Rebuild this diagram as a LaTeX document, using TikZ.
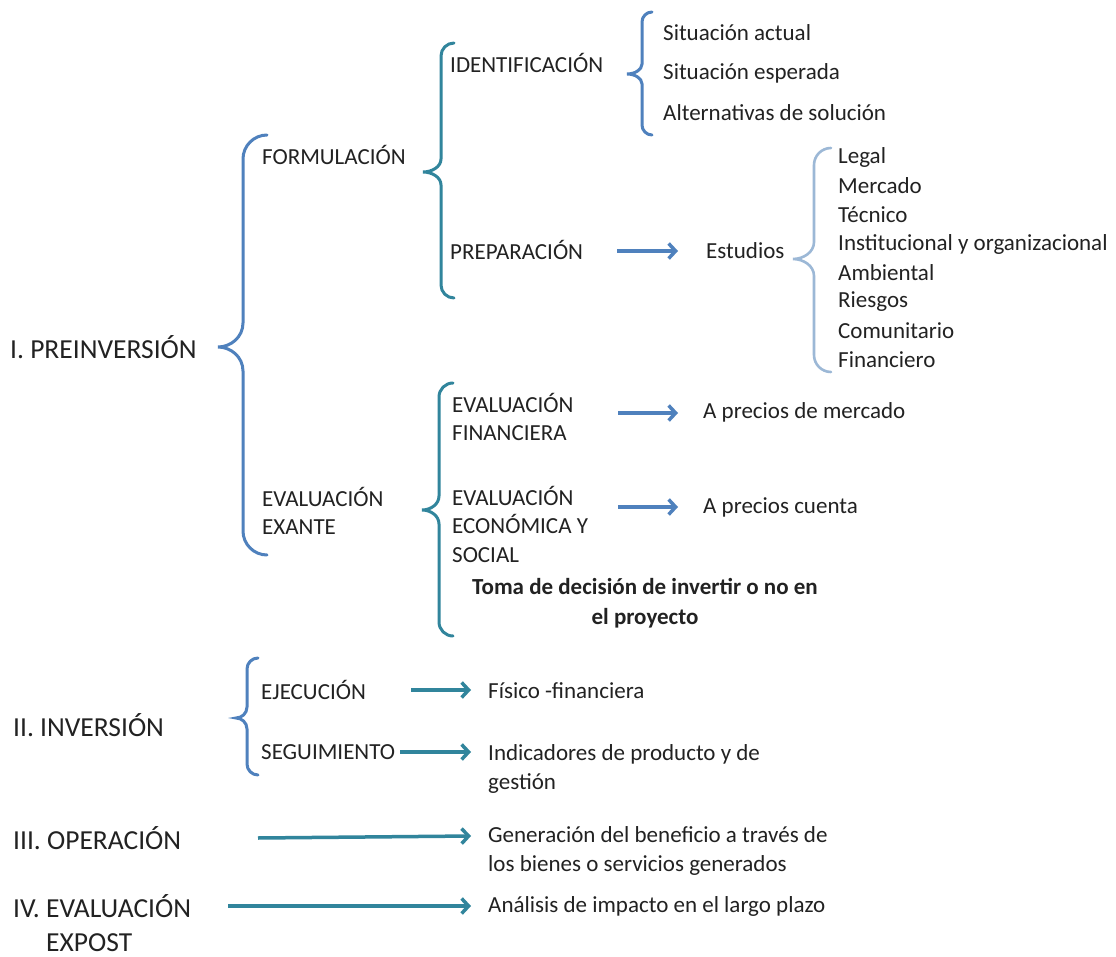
\documentclass[tikz,border=0pt]{standalone}
\usepackage{fontspec}
\setmainfont{Carlito}
\usetikzlibrary{arrows.meta,calc}
\definecolor{blueC}{RGB}{79,129,189}
\definecolor{tealC}{RGB}{49,133,156}
\definecolor{lightC}{RGB}{156,184,214}
\definecolor{txtC}{RGB}{34,34,34}
% #1 style, #2 x of line, #3 top y, #4 tip y, #5 bottom y, #6 tip x, #7 hook size
\newcommand{\bracefig}[7]{%
  \draw[#1] ({#2+#7},#3) .. controls ({#2+0.45*#7},#3) and (#2,{#3+0.45*#7}) .. (#2,{#3+#7})
    -- (#2,{#4-#7}) .. controls (#2,{#4-0.4*#7}) and ({#6+0.5*(#2-#6)},#4) .. (#6,#4)
    .. controls ({#6+0.5*(#2-#6)},#4) and (#2,{#4+0.4*#7}) .. (#2,{#4+#7})
    -- (#2,{#5-#7}) .. controls (#2,{#5-0.45*#7}) and ({#2+0.45*#7},#5) .. ({#2+#7},#5);}
\tikzset{
  txt/.style={anchor=west,inner sep=0pt,text=txtC,font=\fontsize{23}{28.5}\selectfont,align=left},
  head/.style={anchor=west,inner sep=0pt,text=txtC,font=\fontsize{27.5}{33}\selectfont},
  brc/.style={line width=3pt,line cap=round},
  arrB/.style={draw=blueC,line width=3.5pt,-{Straight Barb[length=7pt,width=15pt]}},
  arrT/.style={draw=tealC,line width=3.5pt,-{Straight Barb[length=7pt,width=15pt]}}
}
\begin{document}
\begin{tikzpicture}[x=1pt,y=-1pt]
\fill[white] (0,0) rectangle (1116,957);
\useasboundingbox (0,0) rectangle (1116,957);

% braces
\bracefig{brc,draw=blueC}{243}{135}{347}{555}{218}{24}
\bracefig{brc,draw=tealC}{441}{43}{172}{298}{423}{13}
\bracefig{brc,draw=tealC}{439}{383}{510}{636}{422}{14}
\bracefig{brc,draw=blueC}{642}{12}{74}{135}{627}{10}
\bracefig{brc,line width=2.6pt,draw=lightC}{814}{148}{259}{372}{793}{17}
\bracefig{brc,draw=blueC}{247}{658}{718}{775}{236}{11}

% level 1
\node[head] (h1) at (10,347) {I. PREINVERSIÓN};
\node[head] (h2) at (13,725) {II. INVERSIÓN};
\node[head] (h3) at (13,838) {III. OPERACIÓN};
\node[head] (h4) at (13,906) {IV. EVALUACIÓN};
\node[head] (h4b) at (46,943) {EXPOST};

% level 2
\node[txt] (form) at (262,155) {FORMULACIÓN};
\node[txt] (exante) at (262,511) {EVALUACIÓN\\EXANTE};
\node[txt] (eje) at (261,690) {EJECUCIÓN};
\node[txt] (seg) at (261,752) {SEGUIMIENTO};

% level 3
\node[txt] (ident) at (450,63) {IDENTIFICACIÓN};
\node[txt] (prep) at (450,250) {PREPARACIÓN};
\node[txt] (ef) at (452,417) {EVALUACIÓN\\FINANCIERA};
\node[txt] (eeco) at (452,524) {EVALUACIÓN\\ECONÓMICA Y\\SOCIAL};
\node[anchor=center,inner sep=0pt,text=txtC,align=center,font=\fontsize{23}{30}\selectfont\bfseries] (toma) at (645,603) {Toma de decisión de invertir o no en\\el proyecto};

% level 4
\node[txt] (sa1) at (663,33) {Situación actual};
\node[txt] (sa2) at (663,73) {Situación esperada};
\node[txt] (sa3) at (663,113) {Alternativas de solución};
\node[txt] (est) at (706,251) {Estudios};
\node[txt] (l1) at (838,157) {Legal};
\node[txt] (l2) at (838,186) {Mercado};
\node[txt] (l3) at (838,215) {Técnico};
\node[txt] (l4) at (838,244) {Institucional y organizacional};
\node[txt] (l5) at (838,273) {Ambiental};
\node[txt] (l6) at (838,302) {Riesgos};
\node[txt] (l7) at (838,331) {Comunitario};
\node[txt] (l8) at (838,360) {Financiero};
\node[txt] (apm) at (703,412) {A precios de mercado};
\node[txt] (apc) at (703,507) {A precios cuenta};
\node[txt] (fis) at (488,691) {Físico -financiera};
\node[txt] (ind) at (488,769) {Indicadores de producto y de\\gestión};
\node[txt] (gen) at (488,851) {Generación del beneficio a través de\\los bienes o servicios generados};
\node[txt] (ana) at (488,906) {Análisis de impacto en el largo plazo};

% arrows
\draw[arrB] ($(prep.west)+(167,1)$) -- ($(prep.west -| est.west)+(-28,1)$);
\draw[arrB] ($(ef.west)+(166,-4)$) -- ($(ef.west -| apm.west)+(-25,-4)$);
\draw[arrB] ($(eeco.west)+(166,-17)$) -- ($(eeco.west -| apc.west)+(-25,-17)$);
\draw[arrT] ($(eje.west)+(150,0)$) -- ($(eje.west -| fis.west)+(-17,0)$);
\draw[arrT] ($(seg.west)+(139,0)$) -- ($(seg.west -| ind.west)+(-17,0)$);
\draw[arrT] ($(h3.west)+(245,0)$) -- ($(h3.west -| gen.west)+(-17,-2)$);
\draw[arrT] ($(h4.west)+(215,0)$) -- ($(h4.west -| ana.west)+(-17,0)$);
\end{tikzpicture}
\end{document}
